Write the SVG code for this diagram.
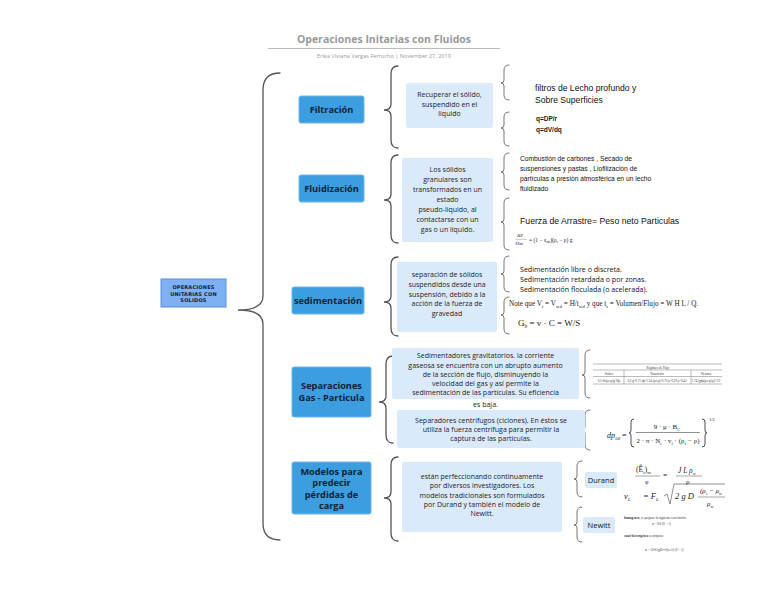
<svg xmlns="http://www.w3.org/2000/svg" width="768" height="594" viewBox="0 0 768 594">
<style>
.br{fill:none;stroke:#555;stroke-width:1.3;stroke-linecap:round}
.sbr{fill:none;stroke:#666;stroke-width:0.9;stroke-linecap:round}
.l1{fill:#3d9edf;stroke:#6bb6ea;stroke-width:1}
.l1t{font-family:"Open Sans","DejaVu Sans",sans-serif;font-weight:bold;font-size:9.2px;fill:#0e2238;text-anchor:middle}
.d{fill:#dbeafb}
.dt{font-family:"Open Sans","DejaVu Sans",sans-serif;font-size:7px;fill:#222;text-anchor:middle}
.rt{font-family:"Liberation Sans",Arial,sans-serif;fill:#111}
.ot{font-family:"Open Sans","DejaVu Sans",sans-serif;fill:#111}
.sf{font-family:"Liberation Serif","Times New Roman",serif;fill:#222}
.tiny{font-family:"Liberation Serif","Times New Roman",serif;font-size:3.2px;fill:#333}
.tl{stroke:#777;stroke-width:0.5}
.fb{fill:none;stroke:#222;stroke-width:0.8}
</style>
<rect width="768" height="594" fill="#ffffff"/>
<g id="title">
<text x="384" y="43" text-anchor="middle" font-family="Open Sans, DejaVu Sans, sans-serif" font-weight="bold" font-size="10.5" fill="#9a9a9a">Operaciones Initarias con Fluidos</text>
<line x1="268" y1="48.5" x2="500" y2="48.5" stroke="#aaa" stroke-width="0.8"/>
<text x="384" y="58" text-anchor="middle" font-family="Open Sans, DejaVu Sans, sans-serif" font-size="5.6" fill="#999">Erika Viviana Vargas Ferrucho   |  November 27, 2019</text>
</g>
<g id="connectors">
<path class="br" d="M280 73 Q263 73 263 90 L263 296 Q263 310 238 310 Q263 310 263 324 L263 523 Q263 540 280 540"/>
<path class="br" d="M398 66 Q391 66 391 74 L391 104 Q391 110 384 110 Q391 110 391 116 L391 140 Q391 148 398 148"/>
<path class="br" d="M398 155 Q391 155 391 163 L391 194 Q391 200 384 200 Q391 200 391 206 L391 235 Q391 243 398 243"/>
<path class="br" d="M398 257 Q391 257 391 265 L391 296 Q391 302 384 302 Q391 302 391 308 L391 328 Q391 336 398 336"/>
<path class="br" d="M393 356 Q386 356 386 364 L386 396 Q386 402 379 402 Q386 402 386 408 L386 435 Q386 443 393 443"/>
<path class="br" d="M398 457 Q391 457 391 465 L391 492 Q391 498 384 498 Q391 498 391 504 L391 533 Q391 541 398 541"/>
<path class="sbr" d="M509 65 Q504 65 504 70 L504 80 Q504 83 501 83 Q504 83 504 86 L504 95 Q504 100 509 100"/>
<path class="sbr" d="M509 112 Q504 112 504 117 L504 125 Q504 128 501 128 Q504 128 504 131 L504 141 Q504 146 509 146"/>
<path class="sbr" d="M509 153 Q504 153 504 158 L504 169 Q504 172 501 172 Q504 172 504 175 L504 185 Q504 190 509 190"/>
<path class="sbr" d="M509 198 Q504 198 504 203 L504 219 Q504 222 501 222 Q504 222 504 225 L504 245 Q504 250 509 250"/>
<path class="sbr" d="M509 256 Q504 256 504 261 L504 271 Q504 274 501 274 Q504 274 504 277 L504 287 Q504 292 509 292"/>
<path class="sbr" d="M509 297 Q504 297 504 302 L504 312 Q504 315 501 315 Q504 315 504 318 L504 329 Q504 334 509 334"/>
<path class="sbr" d="M590 350 Q585 350 585 355 L585 372 Q585 375 582 375 Q585 375 585 378 L585 393 Q585 398 590 398"/>
<path class="sbr" d="M590 410 Q585 410 585 415 L585 427 Q585 430 582 430 Q585 430 585 433 L585 445 Q585 450 590 450"/>
<path class="sbr" d="M582 461 Q577 461 577 466 L577 476 Q577 479 574 479 Q577 479 577 482 L577 492 Q577 497 582 497"/>
<path class="sbr" d="M582 507 Q577 507 577 512 L577 522 Q577 525 574 525 Q577 525 577 528 L577 537 Q577 542 582 542"/>
</g>
<g id="root">
<rect x="161" y="279" width="65" height="28" fill="#7fb1f2" stroke="#5a8fdb" stroke-width="1"/>
<text font-family="DejaVu Sans, sans-serif" font-weight="bold" font-size="5" fill="#0e2238" text-anchor="middle" letter-spacing="0.2"><tspan x="193.5" y="289">OPERACIONES</tspan><tspan x="193.5" y="295.5">UNITARIAS CON</tspan><tspan x="193.5" y="302">SOLIDOS</tspan></text>
</g>
<g id="filtracion">
<rect class="l1" x="299" y="96" width="65" height="27" rx="2"/>
<text class="l1t" x="331.5" y="112.5">Filtración</text>
</g>
<g id="fluidizacion">
<rect class="l1" x="299" y="175" width="65" height="27" rx="2"/>
<text class="l1t" x="331.5" y="191.5">Fluidización</text>
</g>
<g id="sedimentacion">
<rect class="l1" x="292" y="287" width="72" height="27" rx="2"/>
<text class="l1t" x="328" y="303.5">sedimentación</text>
</g>
<g id="separaciones">
<rect class="l1" x="292" y="367" width="79" height="50" rx="2"/>
<text class="l1t"><tspan x="331.5" y="389">Separaciones</tspan><tspan x="331.5" y="400.5">Gas - Particula</tspan></text>
</g>
<g id="modelos">
<rect class="l1" x="292" y="462" width="79" height="52" rx="2"/>
<text class="l1t"><tspan x="331.5" y="474.5">Modelos para</tspan><tspan x="331.5" y="486">predecir</tspan><tspan x="331.5" y="497.5">pérdidas de</tspan><tspan x="331.5" y="509">carga</tspan></text>
</g>
<g id="filtracion-desc">
<rect class="d" x="406" y="83" width="87" height="45" rx="2"/>
<text class="dt"><tspan x="449.5" y="97">Recuperar el sólido,</tspan><tspan x="449.5" y="106.5">suspendido en el</tspan><tspan x="449.5" y="116">liquido</tspan></text>
</g>
<g id="fluidizacion-desc">
<rect class="d" x="402" y="158" width="91" height="84" rx="2"/>
<text class="dt"><tspan x="447.5" y="172">Los sólidos</tspan><tspan x="447.5" y="182">granulares son</tspan><tspan x="447.5" y="192">transformados en un</tspan><tspan x="447.5" y="202">estado</tspan><tspan x="447.5" y="212">pseudo-liquido, al</tspan><tspan x="447.5" y="222">contactarse con un</tspan><tspan x="447.5" y="232">gas o un líquido.</tspan></text>
</g>
<g id="sedimentacion-desc">
<rect class="d" x="397" y="262" width="100" height="70" rx="2"/>
<text class="dt"><tspan x="447" y="277">separación de sólidos</tspan><tspan x="447" y="287">suspendidos desde una</tspan><tspan x="447" y="296.5">suspensión, debido a la</tspan><tspan x="447" y="306">acción de la fuerza de</tspan><tspan x="447" y="316">gravedad</tspan></text>
</g>
<g id="gravitatorios">
<rect class="d" x="392" y="348" width="187" height="51" rx="2"/>
<text class="dt"><tspan x="485.5" y="358">Sedimentadores gravitatorios.  la corriente</tspan><tspan x="485.5" y="367.5">gaseosa se encuentra con un abrupto aumento</tspan><tspan x="485.5" y="376.5">de la sección de flujo, disminuyendo la</tspan><tspan x="485.5" y="385.5">velocidad del gas y así permite la</tspan><tspan x="485.5" y="395">sedimentación de las partículas. Su eficiencia</tspan><tspan x="485.5" y="407">es baja.</tspan></text>
</g>
<g id="centrifugos">
<rect class="d" x="397" y="410" width="188" height="38" rx="2"/>
<text class="dt"><tspan x="491" y="423">Separadores centrífugos (ciclones). En éstos se</tspan><tspan x="491" y="432">utiliza la fuerza centrífuga para permitir la</tspan><tspan x="491" y="441">captura de las partículas.</tspan></text>
</g>
<g id="modelos-desc">
<rect class="d" x="402" y="462" width="160" height="70" rx="2"/>
<text class="dt"><tspan x="482" y="479">están perfeccionando continuamente</tspan><tspan x="482" y="488">por  diversos investigadores. Los</tspan><tspan x="482" y="497.5">modelos tradicionales son formulados</tspan><tspan x="482" y="507">por Durand y también el modelo de</tspan><tspan x="482" y="516">Newitt.</tspan></text>
</g>
<g id="filtros">
<text class="rt" font-size="8.6"><tspan x="535" y="91">filtros de Lecho profundo y</tspan><tspan x="535" y="103">Sobre Superficies</tspan></text>
</g>
<g id="q-formulas">
<text font-family="Liberation Sans, Arial, sans-serif" fill="#1a1a1a" font-size="6.5" font-weight="bold"><tspan x="536" y="121">q=DP/r</tspan><tspan x="536" y="132">q=dV/dq</tspan></text>
</g>
<g id="combustion">
<text class="rt" font-size="6.7"><tspan x="520" y="161">Combustión de carbones , Secado de</tspan><tspan x="520" y="171">suspensiones y pastas   , Liofilización de</tspan><tspan x="520" y="181">partículas a presión atmosférica en un lecho</tspan><tspan x="520" y="191">fluidizado</tspan></text>
</g>
<g id="fuerza">
<text class="rt" font-size="8.7" x="520" y="224">Fuerza de Arrastre= Peso neto Particulas</text>
<text class="sf" font-size="5"><tspan x="517" y="237">ΔP</tspan></text>
<text class="sf" font-size="5" x="515.5" y="245">H<tspan font-size="3.5">mf</tspan></text>
<line x1="515.5" y1="239.3" x2="527" y2="239.3" stroke="#444" stroke-width="0.3"/>
<text class="sf" font-size="5.5" x="529" y="242">= (1 − ε<tspan font-size="3.5" dy="1">mf</tspan><tspan dy="-1">)(ρ</tspan><tspan font-size="3.5" dy="1">s</tspan><tspan dy="-1"> − ρ) g</tspan></text>
</g>
<g id="tipos-sedimentacion">
<text class="ot" font-size="7.1"><tspan x="520" y="272">Sedimentación libre o discreta.</tspan><tspan x="520" y="282">Sedimentación retardada o por zonas.</tspan><tspan x="520" y="292">Sedimentación floculada (o acelerada).</tspan></text>
</g>
<g id="note">
<text class="sf" font-size="7.2" x="509" y="306">Note que V<tspan font-size="4.5" dy="1.5">t</tspan><tspan dy="-1.5"> = V</tspan><tspan font-size="4.5" dy="1.5">sed</tspan><tspan dy="-1.5"> = H/t</tspan><tspan font-size="4.5" dy="1.5">sed</tspan><tspan dy="-1.5"> y que t</tspan><tspan font-size="4.5" dy="1.5">s</tspan><tspan dy="-1.5"> = Volumen/Flujo = W H L / Q.</tspan></text>
<text class="sf" font-size="9" x="518" y="326">G<tspan font-size="5.5" dy="2">b</tspan><tspan dy="-2"> = v · C = W/S</tspan></text>
</g>
<g id="tabla-regimen">
<line class="tl" x1="593" y1="364" x2="722" y2="364"/>
<text class="tiny" x="658" y="368.5" text-anchor="middle">Régimen de Flujo</text>
<line class="tl" x1="593" y1="370" x2="722" y2="370"/>
<text class="tiny" x="609" y="374.5" text-anchor="middle">Stokes</text>
<text class="tiny" x="657" y="374.5" text-anchor="middle">Transición</text>
<text class="tiny" x="706" y="374.5" text-anchor="middle">Newton</text>
<line class="tl" x1="593" y1="376.5" x2="722" y2="376.5"/>
<line class="tl" x1="624" y1="370" x2="624" y2="384"/>
<line class="tl" x1="691" y1="370" x2="691" y2="384"/>
<text class="tiny" x="609" y="381.5" text-anchor="middle">0.5·d²(ρs-ρ)g/18μ</text>
<text class="tiny" x="657" y="381.5" text-anchor="middle">0.2 g^0.71 dp^1.14 (ρs-ρ)^0.71/ρ^0.29 μ^0.43</text>
<text class="tiny" x="706" y="381.5" text-anchor="middle">1.74 [gdp(ρs-ρ)/ρ]^1/2</text>
<line class="tl" x1="593" y1="384" x2="722" y2="384"/>
</g>
<g id="dp50">
<text class="sf" font-size="8" font-style="italic" x="607" y="438">dp<tspan font-size="5" dy="1.5">50</tspan><tspan dy="-1.5" font-style="normal"> =</tspan></text>
<path class="fb" d="M634 419 Q631 419 631 422 L631 430 Q631 433 629 433 Q631 433 631 436 L631 444 Q631 447 634 447"/>
<text class="sf" font-size="7" x="667" y="429" text-anchor="middle">9 · μ · B<tspan font-size="4.5" dy="1.5">C</tspan></text>
<line x1="636" y1="432.5" x2="700" y2="432.5" stroke="#222" stroke-width="0.5"/>
<text class="sf" font-size="7" x="668" y="443" text-anchor="middle">2 · π · N<tspan font-size="4.5" dy="1.5">e</tspan><tspan dy="-1.5"> · v</tspan><tspan font-size="4.5" dy="1.5">i</tspan><tspan dy="-1.5"> · (ρ</tspan><tspan font-size="4.5" dy="1.5">s</tspan><tspan dy="-1.5"> − ρ)</tspan></text>
<path class="fb" d="M702 419 Q705 419 705 422 L705 430 Q705 433 707 433 Q705 433 705 436 L705 444 Q705 447 702 447"/>
<text class="sf" font-size="4.5" x="709" y="421">1/2</text>
</g>
<g id="durand">
<rect class="d" x="585" y="472" width="32" height="16" rx="2"/>
<text class="ot" font-size="7.5" x="601" y="483" text-anchor="middle">Durand</text>
</g>
<g id="durand-formula">
<text class="sf" font-size="7.5" x="636" y="472">(Ê<tspan font-size="4.5" dy="1.5">s</tspan><tspan dy="-1.5">)</tspan><tspan font-size="4.5" dy="2">m</tspan></text>
<line x1="635" y1="476" x2="660" y2="476" stroke="#222" stroke-width="0.4"/>
<text class="sf" font-size="6" x="645" y="484">φ</text>
<text class="sf" font-size="7.5" x="663" y="478">=</text>
<text class="sf" font-size="7.5" font-style="italic" x="678" y="473">J L ρ<tspan font-size="4.5" dy="1.5">w</tspan></text>
<line x1="676" y1="476" x2="702" y2="476" stroke="#222" stroke-width="0.4"/>
<text class="sf" font-size="7" x="686" y="484">ρ</text>
<text class="sf" font-size="8.5" font-style="italic" x="624" y="499">v<tspan font-size="5" dy="2">L</tspan></text>
<text class="sf" font-size="8.5" font-style="italic" x="643" y="499">= F<tspan font-size="5" dy="2">L</tspan></text>
<path d="M664 496 L667 494 L670 504 L674 484 L725 484" fill="none" stroke="#222" stroke-width="0.5"/>
<text class="sf" font-size="8.5" font-style="italic" x="675" y="499">2 g D</text>
<text class="sf" font-size="7" font-style="italic" x="700" y="493">(ρ<tspan font-size="4.5" dy="1.5">s</tspan><tspan dy="-1.5"> − ρ</tspan><tspan font-size="4.5" dy="1.5">w</tspan></text>
<line x1="698" y1="497" x2="725" y2="497" stroke="#222" stroke-width="0.4"/>
<text class="sf" font-size="7" font-style="italic" x="707" y="506">ρ<tspan font-size="4.5" dy="1.5">w</tspan></text>
</g>
<g id="newitt">
<rect class="d" x="583" y="517" width="32" height="16" rx="2"/>
<text class="ot" font-size="7.5" x="599" y="528" text-anchor="middle">Newitt</text>
</g>
<g id="newitt-formula">
<text class="tiny" x="624" y="519"><tspan font-weight="bold">homogeneo</tspan>, se propone la siguiente correlación:</text>
<text class="tiny" x="652" y="525">φ = 0.6 (S − 1)</text>
<text class="tiny" x="624" y="537"><tspan font-weight="bold">cuasi-heterogéneo</tspan> se propone:</text>
<text class="tiny" x="645" y="551">φ = 1100 (gD/v²)(v<tspan font-size="2.4">s</tspan>/v) (S − 1)</text>
</g>
</svg>
